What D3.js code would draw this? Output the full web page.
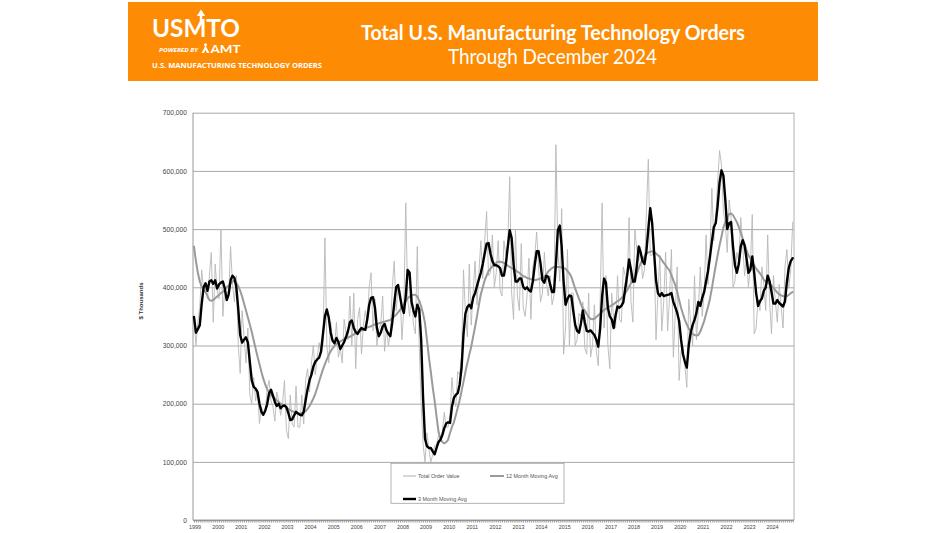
<!DOCTYPE html>
<html><head><meta charset="utf-8">
<script src="https://cdn.jsdelivr.net/npm/d3@7"></script>
<style>body{margin:0;background:#fff;} svg{display:block;}</style>
</head><body>
<svg id="chart" width="948" height="533"></svg>
<script>
// ---- data (values in $ thousands / 1000) ----
const years = d3.range(1999, 2025);
const yTicks = [0, 100, 200, 300, 400, 500, 600, 700];
const legendLabels = ["Total Order Value", "12 Month Moving Avg", "3 Month Moving Avg"];
const titleLines = ["Total U.S. Manufacturing Technology Orders", "Through December 2024"];
const yAxisTitle = "$ Thousands";

const totalOrders = [
345,300,340,365,430,395,400,380,420,460,340,440,
395,380,500,350,400,380,385,470,405,375,420,300,
252,360,315,270,330,215,200,245,205,225,166,195,
185,185,225,240,205,195,170,220,205,180,200,240,
155,140,215,165,160,230,160,160,215,165,240,260,
220,270,300,250,280,305,285,300,485,300,270,340,
310,300,340,280,295,270,345,320,310,385,300,390,
260,345,365,285,335,360,340,400,425,325,380,300,
330,335,385,290,330,300,320,400,445,360,400,395,
310,365,545,380,350,395,335,320,470,300,200,130,
100,150,122,100,112,128,130,145,140,152,185,160,
160,182,245,205,195,255,250,282,430,355,315,440,
335,390,445,370,425,480,415,480,530,420,425,490,
400,425,480,395,385,480,455,475,590,390,345,500,
385,360,475,365,350,385,450,345,435,455,495,435,
375,390,460,410,385,420,370,385,645,465,410,535,
285,330,465,300,390,390,300,310,355,350,375,295,
285,390,280,300,370,290,265,380,545,330,420,300,
260,390,345,330,420,345,340,435,420,400,520,375,
340,500,465,445,470,415,430,530,620,455,455,470,
310,390,455,325,375,460,325,380,465,280,355,435,
240,290,300,265,228,380,340,300,420,310,360,435,
350,390,490,405,460,570,480,520,580,635,610,530,
510,460,550,520,400,410,460,445,520,475,420,455,
400,435,525,320,330,380,360,435,405,360,490,375,
320,420,375,340,405,365,330,435,465,400,430,512
];

const movingAvg12 = [
470,445,425,410,401,396,392,385,378,377,378,381,
384,387,390,392,396,400,403,407,410,411,408,402,
394,384,372,360,348,336,323,309,295,281,268,255,
243,233,225,219,215,212,209,206,203,200,198,196,
193,191,189,187,186,185,184,183,184,185,187,191,
196,202,209,217,227,238,249,259,268,276,284,290,
295,299,303,305,307,309,311,313,314,315,317,319,
321,323,324,326,327,329,331,332,333,335,336,337,
338,339,340,341,342,343,344,347,350,353,357,361,
366,371,376,381,384,386,387,387,384,377,367,355,
338,310,280,255,228,205,178,152,140,134,132,134,
138,150,160,168,180,193,206,222,238,255,270,284,
298,315,332,350,370,388,400,412,420,428,432,436,
440,442,444,444,443,442,440,437,435,433,431,429,
427,425,422,419,418,416,415,414,413,412,413,414,
415,416,418,422,427,430,433,435,435,435,435,434,
433,432,428,424,418,408,398,389,380,371,364,360,
354,349,346,345,346,349,352,355,358,361,363,365,
367,369,371,374,376,378,381,385,390,395,401,407,
410,413,423,433,441,448,453,457,460,461,462,461,
458,455,452,447,442,438,433,429,421,412,404,392,
378,365,354,344,336,329,324,320,318,317,318,324,
333,342,354,366,380,398,418,437,455,472,487,503,
512,519,526,527,524,518,512,504,494,484,474,464,
455,450,444,438,432,428,424,419,413,410,408,406,
403,399,395,391,388,386,385,384,385,387,390,392
];

const movingAvg3 = [
349,322,328,335,372,400,407,394,410,412,406,412,
398,405,408,410,398,378,388,412,420,416,400,362,
318,305,310,314,305,272,240,229,226,220,200,186,
181,188,199,218,224,214,203,196,200,192,196,197,
194,184,172,173,180,186,183,181,180,186,206,225,
240,250,264,272,276,279,290,320,350,362,348,322,
308,304,313,306,294,300,306,315,325,340,343,330,
323,320,326,330,328,327,345,370,382,383,365,330,
316,322,333,337,326,320,316,340,372,400,404,385,
366,356,385,430,425,375,360,350,370,362,310,210,
140,127,124,124,118,113,124,134,138,146,158,166,
168,167,195,210,215,218,233,262,320,355,366,370,
364,382,390,402,414,425,440,458,475,476,458,445,
438,438,436,433,420,420,440,470,498,485,440,410,
410,415,415,401,397,400,395,393,410,438,462,462,
441,412,408,420,418,405,392,392,440,498,506,470,
410,370,380,386,385,360,336,325,322,338,360,340,
325,324,326,322,318,310,298,330,385,415,408,365,
350,345,330,352,367,365,368,374,398,420,448,430,
410,410,436,470,460,445,440,462,500,536,510,460,
412,390,385,390,385,386,387,388,390,375,366,356,
342,310,285,272,262,300,322,335,344,356,375,368,
382,392,410,428,452,478,503,510,540,580,601,592,
550,500,510,512,470,438,425,440,470,481,472,450,
425,430,453,425,390,368,376,381,394,400,420,410,
392,372,372,378,373,370,367,376,410,434,445,450
];

// ---- drawing ----
const svg = d3.select("#chart");
const W = 948, H = 533;
svg.append("rect").attr("width", W).attr("height", H).attr("fill", "#fff");

// Header banner
const hdr = svg.append("g");
hdr.append("rect").attr("x", 128).attr("y", 2).attr("width", 690).attr("height", 79).attr("fill", "#fd8c04");
hdr.append("text").attr("x", 361).attr("y", 39.5).text(titleLines[0])
  .attr("font-family", "Lato, 'Open Sans', sans-serif").attr("font-weight", "bold").attr("font-size", 21.5)
  .attr("fill", "#fff").attr("textLength", 384).attr("lengthAdjust", "spacingAndGlyphs");
hdr.append("text").attr("x", 448).attr("y", 63.5).text(titleLines[1])
  .attr("font-family", "Lato, 'Open Sans', sans-serif").attr("font-size", 21)
  .attr("fill", "#fff").attr("textLength", 209).attr("lengthAdjust", "spacingAndGlyphs");
// logo
hdr.append("text").attr("x", 152).attr("y", 36.5).text("USMTO")
  .attr("font-family", "Lato, 'Open Sans', sans-serif").attr("font-weight", "bold").attr("font-size", 25)
  .attr("fill", "#fff").attr("textLength", 88).attr("lengthAdjust", "spacingAndGlyphs");
hdr.append("path").attr("d", "M201,24 L201,14").attr("stroke", "#fff").attr("stroke-width", 2.4);
hdr.append("path").attr("d", "M196.8,16 L201,9.5 L205.2,16 Z").attr("fill", "#fff");
hdr.append("text").attr("x", 159).attr("y", 52).text("POWERED BY")
  .attr("font-family", "'Open Sans', sans-serif").attr("font-weight", "bold").attr("font-style", "italic")
  .attr("font-size", 6).attr("fill", "#fff").attr("textLength", 39).attr("lengthAdjust", "spacingAndGlyphs");
hdr.append("path").attr("d", "M201.5,53 L205.5,45.5 L209.5,53 L207,53 L205.5,50 L204,53 Z").attr("fill", "#fff");
hdr.append("circle").attr("cx", 205.5).attr("cy", 44.8).attr("r", 1.5).attr("fill", "#fff");
hdr.append("text").attr("x", 210.5).attr("y", 53.2).text("AMT")
  .attr("font-family", "Lato, 'Open Sans', sans-serif").attr("font-weight", "bold").attr("font-size", 11)
  .attr("fill", "#fff").attr("textLength", 30).attr("lengthAdjust", "spacingAndGlyphs");
hdr.append("text").attr("x", 152).attr("y", 67.5).text("U.S. MANUFACTURING TECHNOLOGY ORDERS")
  .attr("font-family", "'Open Sans', sans-serif").attr("font-weight", "bold").attr("font-size", 7.4)
  .attr("fill", "#fff").attr("textLength", 170).attr("lengthAdjust", "spacingAndGlyphs");

// Scales
const left = 193, right = 794;
const x = d3.scaleLinear().domain([0, totalOrders.length - 1]).range([194, 792.7]);
const y = d3.scaleLinear().domain([0, 700]).range([520.1, 112.7]);
const fmt = d3.format(",");

// gridlines + y labels
const yAxis = d3.axisLeft(y).tickValues(yTicks).tickSize(-(right - left)).tickPadding(6)
  .tickFormat(d => fmt(d * 1000));
const gy = svg.append("g").attr("transform", `translate(${left},0)`).call(yAxis);
gy.select(".domain").remove();
gy.selectAll(".tick line").attr("stroke", "#a8a8a8").attr("stroke-width", 1);
gy.selectAll(".tick text").attr("font-family", "'Liberation Sans', Arial, sans-serif")
  .attr("font-size", 6.7).attr("fill", "#444");

// plot frame (left axis & right border)
svg.append("line").attr("x1", left).attr("x2", left).attr("y1", y(700)).attr("y2", y(0))
  .attr("stroke", "#9a9a9a").attr("stroke-width", 1);
svg.append("line").attr("x1", right).attr("x2", right).attr("y1", y(700)).attr("y2", y(0))
  .attr("stroke", "#b0b0b0").attr("stroke-width", 1);

// x axis: monthly minor ticks + yearly labels
const xMinor = d3.axisBottom(x).tickValues(d3.range(0, totalOrders.length)).tickSize(2.5).tickFormat("");
const gxm = svg.append("g").attr("transform", `translate(0,${y(0)})`).call(xMinor);
gxm.select(".domain").attr("stroke", "#8a8a8a").attr("d", `M${left},0H${right}`);
gxm.selectAll(".tick line").attr("stroke", "#8a8a8a").attr("stroke-width", 0.8);
const xMajor = d3.axisBottom(x).tickValues(years.map((yr, k) => k * 12)).tickSize(0).tickPadding(5)
  .tickFormat((d, k) => years[k]);
const gx = svg.append("g").attr("transform", `translate(0.6,${y(0)})`).call(xMajor);
gx.select(".domain").remove();
gx.selectAll(".tick text").attr("font-family", "'Liberation Sans', Arial, sans-serif")
  .attr("font-size", 5.4).attr("fill", "#444");

// y axis title
svg.append("text").attr("transform", "translate(143,301) rotate(-90)").attr("text-anchor", "middle")
  .attr("font-family", "'Liberation Sans', Arial, sans-serif").attr("font-weight", "bold")
  .attr("font-size", 6).attr("fill", "#333").text(yAxisTitle);

// lines
const line = d3.line().x((d, i) => x(i)).y(d => y(d));
const series = [
  {data: totalOrders, color: "#b8b8b8", width: 0.9},
  {data: movingAvg12, color: "#9a9a9a", width: 2},
  {data: movingAvg3, color: "#000", width: 2.4}
];
series.forEach(s => {
  svg.append("path").datum(s.data).attr("d", line).attr("fill", "none")
    .attr("stroke", s.color).attr("stroke-width", s.width)
    .attr("stroke-linejoin", "round").attr("stroke-linecap", "round");
});

// legend
const lg = svg.append("g");
lg.append("rect").attr("x", 391).attr("y", 463.3).attr("width", 173).attr("height", 40)
  .attr("fill", "#fff").attr("stroke", "#a0a0a0").attr("stroke-width", 0.8);
const legPos = [[403, 416, 476], [490, 504, 476], [403, 416, 499]];
legendLabels.forEach((lab, k) => {
  const p = legPos[k];
  lg.append("line").attr("x1", p[0]).attr("x2", p[1]).attr("y1", p[2]).attr("y2", p[2])
    .attr("stroke", series[k].color).attr("stroke-width", series[k].width + (k === 0 ? 0.2 : 0));
  lg.append("text").attr("x", p[1] + 2).attr("y", p[2] + 1.9).text(lab)
    .attr("font-family", "'Liberation Sans', Arial, sans-serif").attr("font-size", 5.4).attr("fill", "#555");
});
</script>
</body></html>
